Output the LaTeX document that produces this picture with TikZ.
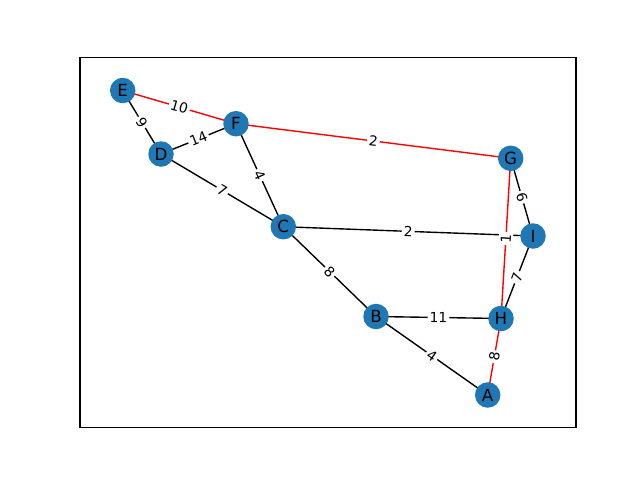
\documentclass[tikz,border=0pt]{standalone}
\usepackage{fontspec}
\setmainfont{DejaVu Sans}
\usetikzlibrary{backgrounds}
\definecolor{nodeblue}{HTML}{1F77B4}
\begin{document}
\begin{tikzpicture}[x=1pt,y=-1pt,
 vtx/.style={circle,fill=nodeblue,minimum size=25.5pt,inner sep=0pt,font=\fontsize{16.7}{17}\selectfont},
 edge/.style={line width=1.39pt,black},
 redge/.style={line width=1.39pt,red},
 lbl/.style={fill=white,text=black,inner sep=2pt,font=\fontsize{13.9}{14}\selectfont,sloped,midway}]
\useasboundingbox (0,0) rectangle (640,480);
\draw[line width=1.1pt] (80,57.6) rectangle (576,427.2);
\node[vtx] (E) at (122.7,90.5) {E};
\node[vtx] (F) at (236,123.7) {F};
\node[vtx] (D) at (161,154) {D};
\node[vtx] (G) at (510.7,158.3) {G};
\node[vtx] (C) at (283.3,226.7) {C};
\node[vtx] (I) at (533,236) {I};
\node[vtx] (B) at (376,316.5) {B};
\node[vtx] (H) at (501,318.5) {H};
\node[vtx] (A) at (487.7,395) {A};
\begin{scope}[on background layer]
\draw[redge] (E.center) -- node[lbl] {10} (F.center);
\draw[edge] (E.center) -- node[lbl] {9} (D.center);
\draw[edge] (D.center) -- node[lbl] {14} (F.center);
\draw[edge] (F.center) -- node[lbl] {4} (C.center);
\draw[redge] (F.center) -- node[lbl] {2} (G.center);
\draw[edge] (D.center) -- node[lbl] {7} (C.center);
\draw[edge] (C.center) -- node[lbl] {2} (I.center);
\draw[edge] (C.center) -- node[lbl] {8} (B.center);
\draw[edge] (G.center) -- node[lbl] {6} (I.center);
\draw[redge] (G.center) -- node[lbl] {1} (H.center);
\draw[edge] (I.center) -- node[lbl] {7} (H.center);
\draw[edge] (B.center) -- node[lbl] {11} (H.center);
\draw[edge] (B.center) -- node[lbl] {4} (A.center);
\draw[redge] (H.center) -- node[lbl] {8} (A.center);
\end{scope}
\end{tikzpicture}
\end{document}
